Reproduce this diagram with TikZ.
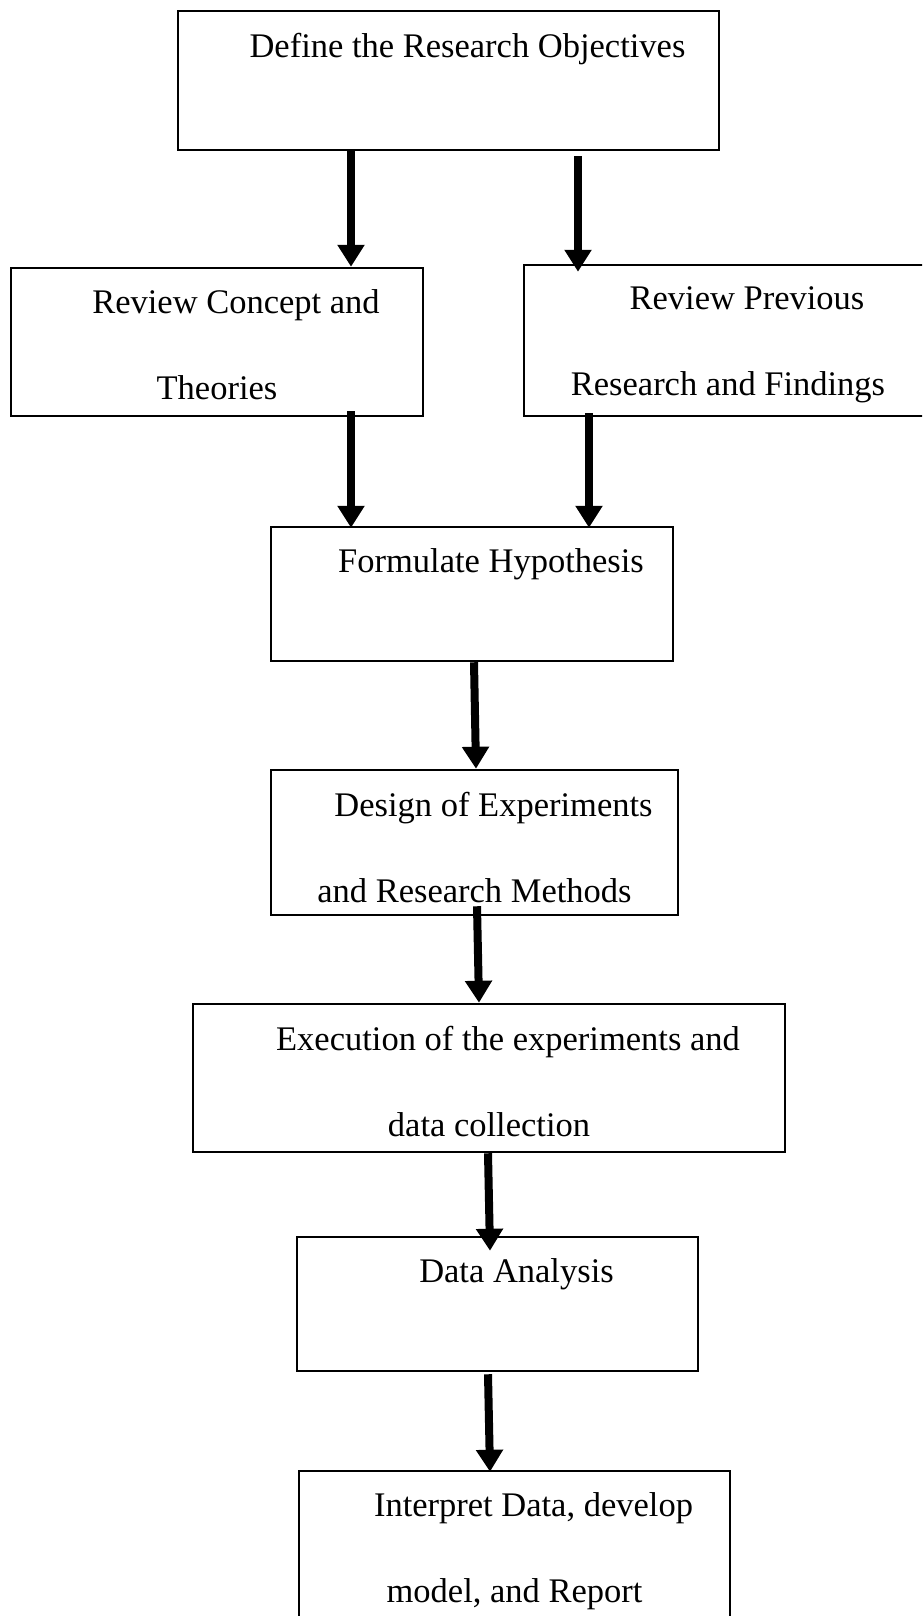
\documentclass[tikz,border=0pt]{standalone}
\usepackage{fontspec}
\setmainfont{Liberation Serif}
\usepackage{tikz}
\usetikzlibrary{arrows.meta,positioning}

\begin{document}
\begin{tikzpicture}[x=1pt,y=-1pt,
	box/.style={draw,line width=2.5pt,inner sep=0pt},
	txt/.style={align=center,inner sep=0pt,font=\fontsize{34.5}{86}\selectfont},
	arr/.style={line width=8pt,-{Triangle[length=22pt,width=26pt]}}]
	\useasboundingbox (0,0) rectangle (922,1616);
	\clip (0,0) rectangle (922,1616);
	
	% boxes
	\node[box,minimum width=541pt,minimum height=139pt] (obj) at (448.5,80.5) {};
	\node[box,minimum width=412pt,minimum height=148pt] (con) at (217,342) {};
	\node[box,minimum width=408pt,minimum height=151pt] (prev) at (728,340.5) {};
	\node[box,minimum width=402pt,minimum height=134pt] (hyp) at (472,594) {};
	\node[box,minimum width=407pt,minimum height=145pt] (des) at (474.5,842.5) {};
	\node[box,minimum width=592pt,minimum height=148pt] (exe) at (489,1078) {};
	\node[box,minimum width=401pt,minimum height=134pt] (ana) at (497.5,1304) {};
	\node[box,minimum width=431pt,minimum height=160pt] (rep) at (514.5,1551) {};
	
	% texts
	\node[txt,below=23pt of obj.north] (objtxt) {\hspace*{38pt}Define the Research Objectives};
	\node[txt,below=23pt of con.north] (context) {\hspace*{38pt}Review Concept and\\Theories};
	\node[txt,below=23pt of prev.north] (prevtxt) {\hspace*{38pt}Review Previous\\Research and Findings};
	\node[txt,below=23pt of hyp.north] (hyptxt) {\hspace*{38pt}Formulate Hypothesis};
	\node[txt,below=23pt of des.north] (destxt) {\hspace*{38pt}Design of Experiments\\and Research Methods};
	\node[txt,below=23pt of exe.north] (exetxt) {\hspace*{38pt}Execution of the experiments and\\data collection};
	\node[txt,below=23pt of ana.north] (anatxt) {\hspace*{38pt}Data Analysis};
	\node[txt,below=23pt of rep.north] (reptxt) {\hspace*{38pt}Interpret Data, develop\\model, and Report};
	
	% arrows
	\draw[arr] ([xshift=-97.5pt]obj.south) -- ([xshift=134pt]con.north);
	\draw[arr] ([xshift=129.5pt,yshift=-5pt]obj.south) -- ([xshift=-150pt,yshift=-8pt]prev.north);
	\draw[arr] ([xshift=134pt,yshift=6pt]con.south) -- ([xshift=-121pt,yshift=-2pt]hyp.north);
	\draw[arr] ([xshift=-139pt,yshift=4pt]prev.south) -- ([xshift=117pt,yshift=-2pt]hyp.north);
	\draw[arr] ([xshift=2pt]hyp.south) -- ([xshift=1.5pt]des.north);
	\draw[arr] ([xshift=2.5pt,yshift=10pt]des.south) -- ([xshift=-10pt]exe.north);
	\draw[arr] ([xshift=-1pt]exe.south) -- ([xshift=-7.5pt,yshift=-15pt]ana.north);
	\draw[arr] ([xshift=-9.5pt,yshift=-2pt]ana.south) -- ([xshift=-24.5pt,yshift=-2pt]rep.north);
\end{tikzpicture}
\end{document}
